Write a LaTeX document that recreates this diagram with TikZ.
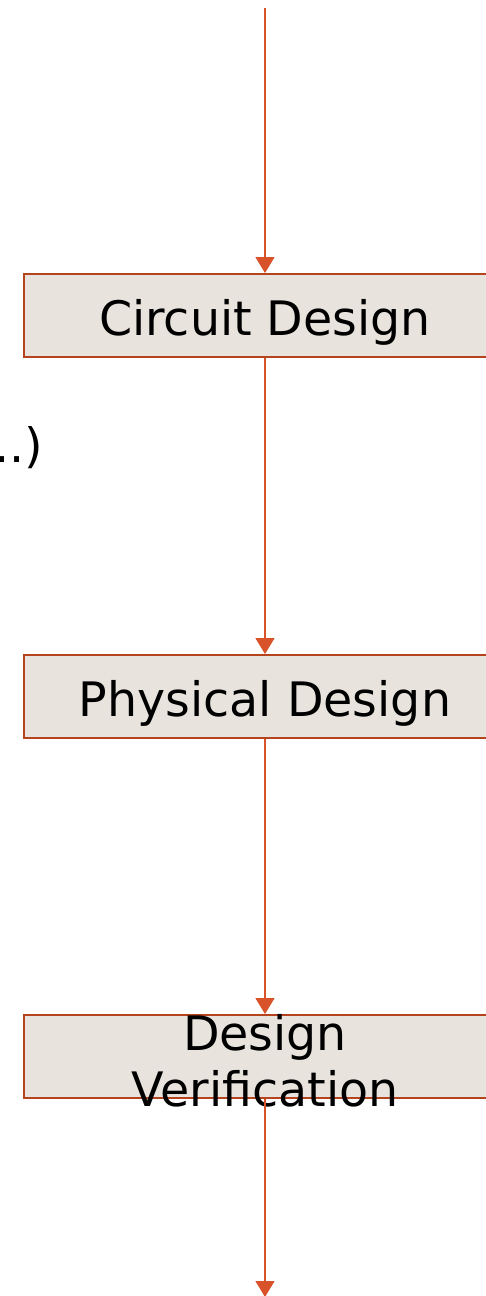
\documentclass[tikz,border=0pt]{standalone}
\usepackage{fontspec}
\setmainfont{DejaVu Sans}
\usepackage{tikz}
\usetikzlibrary{arrows.meta}
\definecolor{flowline}{HTML}{D9532A}
\definecolor{boxedge}{HTML}{B5441E}
\definecolor{boxfill}{HTML}{E8E4DD}
\newcommand{\stagefont}{\fontsize{47.5}{56}\selectfont}
\tikzset{every edge/.style={draw, flowline, line width=1.3pt,
    -{Triangle[width=19pt,length=16pt]}}}
\tikzset{stage/.style={draw=boxedge, line width=1.9pt, fill=boxfill,
    minimum width=482pt, minimum height=83pt, inner sep=0pt,
    font=\stagefont, text height=40pt, text depth=0pt}}

\begin{document}
\begin{tikzpicture}[x=1pt, y=-1pt]
    \useasboundingbox (0, 0) rectangle (486, 1296);

    \coordinate (in) at (265, 8);
    \coordinate (out) at (265, 1297);

    \node[stage] at (265, 315.5) (circuit) {Circuit Design};
    \node[stage] at (265, 696.5) (physical) {Physical Design};
    \node[stage] at (265, 1056.5) (verif) {};
    \node[font=\stagefont, align=center, inner sep=0pt]
        at (265, 1061) (veriftext) {Design\\Verification};

    \draw (in) edge (circuit);
    \draw (circuit) edge (physical);
    \draw (physical) edge (verif);
    \draw (verif) edge (out);

    % spec text cut off on the left
    \node[anchor=base east, inner sep=0pt, font=\stagefont]
        at (43, 462) (spec) {..)};
\end{tikzpicture}
\end{document}
